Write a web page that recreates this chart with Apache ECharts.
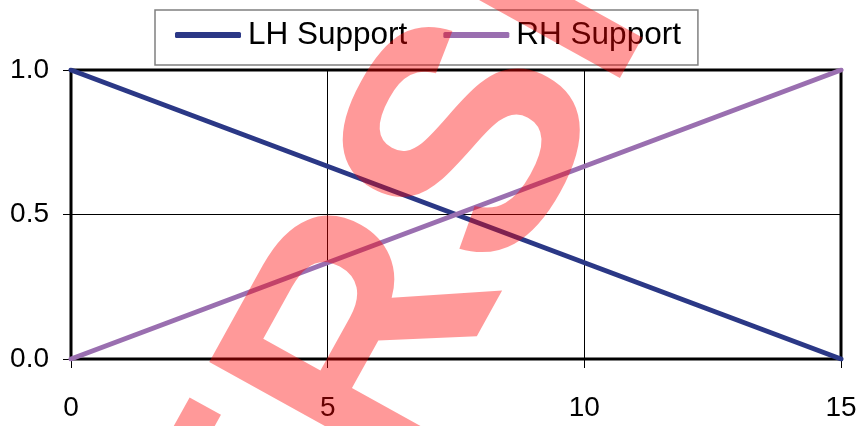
<!DOCTYPE html>
<html>
<head>
<meta charset="utf-8">
<script src="https://cdn.jsdelivr.net/npm/echarts@6/dist/echarts.min.js"></script>
<style>
  html, body { margin: 0; padding: 0; background: #ffffff; }
  #chart { width: 860px; height: 426px; }
</style>
</head>
<body>
<div id="chart"></div>
<script>
// Support reactions along the span (0 to 15)
const spanPositions = [0, 15];
const lhSupport = [1.0, 0.0];
const rhSupport = [0.0, 1.0];
const seriesNames = ['LH Support', 'RH Support'];
const watermarkText = 'VERSION';

const pairs = (xs, ys) => xs.map((x, i) => [x, ys[i]]);

const chart = echarts.init(document.getElementById('chart'), null, { renderer: 'canvas' });

const font = '"Liberation Sans", Arial, sans-serif';

chart.setOption({
  animation: false,
  backgroundColor: '#ffffff',
  textStyle: { fontFamily: font },
  grid: {
    left: 71, right: 19, top: 70, bottom: 67,
    show: true, borderColor: '#000000', borderWidth: 3, backgroundColor: 'transparent'
  },
  legend: {
    top: 10, left: 155,
    padding: [1, 17, 6, 20],
    borderColor: '#808080', borderWidth: 1.5,
    itemWidth: 66, itemHeight: 6, itemGap: 36,
    selectedMode: false,
    icon: 'roundRect',
    textStyle: { fontSize: 31.5, color: '#000000', fontFamily: font, lineHeight: 34, padding: [14, 0, 0, 2] },
    data: seriesNames
  },
  xAxis: {
    type: 'value', min: 0, max: 15, interval: 5,
    axisLine: { show: false },
    axisTick: { show: true, length: 9, lineStyle: { color: '#000000', width: 1 } },
    axisLabel: { fontSize: 28, color: '#000000', margin: 35, fontFamily: font },
    splitLine: { show: true, lineStyle: { color: '#000000', width: 1 } }
  },
  yAxis: {
    type: 'value', min: 0, max: 1, interval: 0.5,
    axisLine: { show: false },
    axisTick: { show: true, length: 8, lineStyle: { color: '#000000', width: 1 } },
    axisLabel: { fontSize: 28, color: '#000000', margin: 22, fontFamily: font,
      formatter: v => v.toFixed(1) },
    splitLine: { show: true, lineStyle: { color: '#000000', width: 1 } }
  },
  series: [
    {
      name: seriesNames[0], type: 'line', data: pairs(spanPositions, lhSupport),
      showSymbol: false, symbol: 'none',
      color: '#2b3886',
      lineStyle: { width: 5, color: '#2b3886', cap: 'round' }
    },
    {
      name: seriesNames[1], type: 'line', data: pairs(spanPositions, rhSupport),
      showSymbol: false, symbol: 'none',
      color: '#9a6fb0',
      lineStyle: { width: 5, color: '#9a6fb0', cap: 'round' }
    }
  ],
  graphic: [
    {
      type: 'text',
      z: 1000,
      silent: true,
      x: 458, y: 187,
      rotation: 61 * Math.PI / 180,
      style: {
        text: watermarkText,
        font: 'bold 322px "Liberation Sans", Arial, sans-serif',
        fill: 'rgba(255,0,0,0.4)',
        textAlign: 'center',
        textVerticalAlign: 'middle'
      }
    }
  ]
});
</script>
</body>
</html>
